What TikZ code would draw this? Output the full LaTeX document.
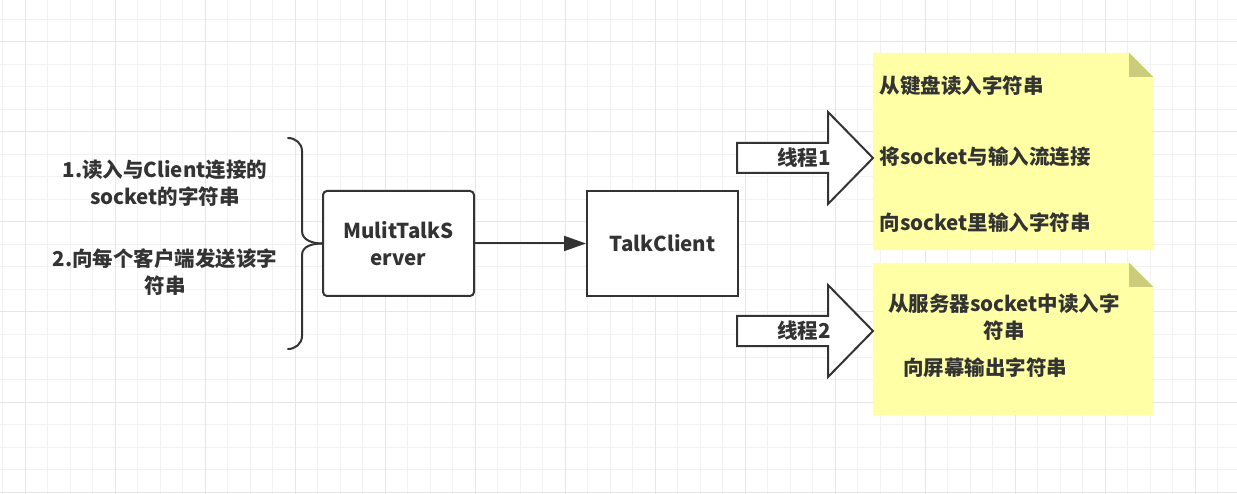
\documentclass[tikz,border=0pt]{standalone}
\usepackage{fontspec}
\usepackage{xcolor}
\usepackage{tikz}
\usetikzlibrary{arrows.meta, positioning, calc}
\newfontfamily\cjk{Noto Sans CJK SC}
\definecolor{ink}{HTML}{333333}
\definecolor{gridminor}{HTML}{F2F2F2}
\definecolor{gridmajor}{HTML}{E6E6E6}
\definecolor{notebg}{HTML}{FFFFA6}
\definecolor{notefold}{HTML}{CCCC7A}

\begin{document}
\begin{tikzpicture}[
    x=1pt, y=-1pt,
    every node/.style={font=\cjk\bfseries\fontsize{20.5}{27}\selectfont, text=ink},
    line/.style={draw=ink, line width=2pt},
    box/.style={line, fill=white, minimum width=151pt, minimum height=105pt, align=center, inner sep=2pt},
    notearea/.style={inner sep=0pt, minimum width=280pt},
    blockarrow/.style={line, fill=white, line join=miter},
]
    \useasboundingbox[fill=white] (0,0) rectangle (1237,494);

    % Grid
    \foreach \i in {0,...,54}
        \draw[gridminor, line width=1pt] ({2.5+22.5*\i},0) -- ++(0,494);
    \foreach \i in {0,...,21}
        \draw[gridminor, line width=1pt] (0,{19.5+22.5*\i}) -- ++(1237,0);
    \foreach \i in {0,...,13}
        \draw[gridmajor, line width=1pt] ({25+90*\i},0) -- ++(0,494);
    \foreach \i in {0,...,5}
        \draw[gridmajor, line width=1pt] (0,{42+90*\i}) -- ++(1237,0);

    % Server side
    \node[box, rounded corners=4pt] (server) at (398.5,243.5) {MulitTalkS\\erver};
    \node[box] (client) at (662.5,243.5) {TalkClient};
    \draw[line, -{Triangle[length=22pt, width=15pt]}] (server) -- (client);

    \coordinate (tip) at (server.west);
    \draw[line, line cap=round] (288,138) to[out=0, in=90] (302,151) -- (302,231) to[out=-90, in=180] (tip);
    \draw[line, line cap=round] (288,349) to[out=0, in=-90] (302,336) -- (302,255) to[out=90, in=180] (tip);

    \node[align=center] (readtxt) at (165,183.5) {1.读入与Client连接的\\socket的字符串};
    \node[align=center] (sendtxt) at (165,272.5) {2.向每个客户端发送该字\\符串};

    % Notes
    \node[notearea, minimum height=197pt] (note1) at (1013,151.5) {};
    \node[notearea, minimum height=152pt] (note2) at (1013,339) {};
    \foreach \n in {note1, note2} {
        \fill[notebg] (\n.south west) |- ($(\n.north east)+(-24,0)$) -- ($(\n.north east)+(0,24)$) |- (\n.south west) -- cycle;
        \fill[notefold] ($(\n.north east)+(-24,0)$) -- ($(\n.north east)+(-24,24)$) -- ($(\n.north east)+(0,24)$) -- cycle;
    }

    % Thread arrows
    \foreach \yc/\lab/\nm in {158/线程1/thread1, 331/线程2/thread2} {
        \draw[blockarrow] (737,\yc) ++(0,-15) -- ++(91,0) -- ++(0,-31) -- ++(45,46) -- ++(-45,46) -- ++(0,-31) -- ++(-91,0) -- cycle;
        \node (\nm) at (804,\yc) {\lab};
    }

    \node[anchor=west] (keyread) at (876,86) {从键盘读入字符串};
    \node[anchor=west] (bindin) at (876,157) {将socket与输入流连接};
    \node[anchor=west] (writesock) at (876,223) {向socket里输入字符串};
    \node[align=center] (readsrv) at (1004,317.5) {从服务器socket中读入字\\符串};
    \node (printout) at (985,368) {向屏幕输出字符串};
\end{tikzpicture}
\end{document}
